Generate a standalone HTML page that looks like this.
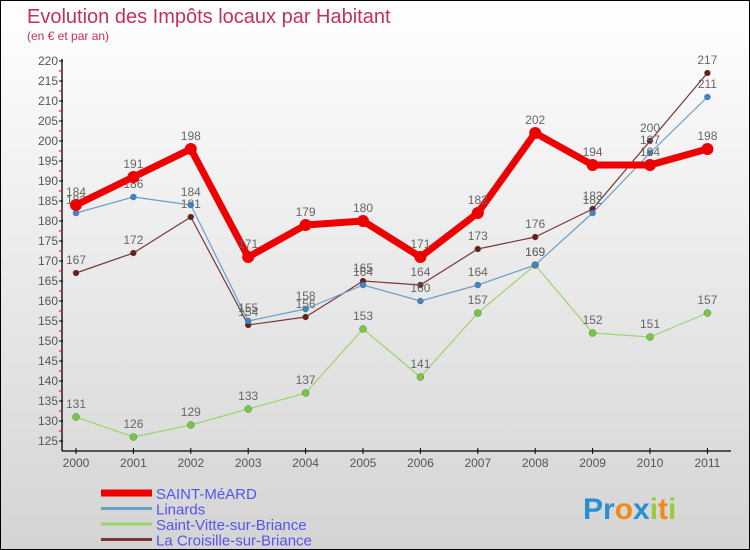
<!DOCTYPE html>
<html><head><meta charset="utf-8"><style>
body{margin:0}
#c{width:750px;height:550px;position:relative;box-sizing:border-box;border:1px solid #000;background:linear-gradient(#fff,#d4d4d4);font-family:"Liberation Sans",sans-serif;overflow:hidden}
svg{position:absolute;left:0;top:0}
</style></head><body>
<div id="c">
<svg id="s" width="750" height="550">
<text x="26" y="22" font-size="20" fill="#c0325a">Evolution des Impôts locaux par Habitant</text>
<text x="26" y="39" font-size="12" fill="#c0325a">(en € et par an)</text>
</svg>
</div>
<script>
const years=["2000","2001","2002","2003","2004","2005","2006","2007","2008","2009","2010","2011"];
const yTicks=[125,130,135,140,145,150,155,160,165,170,175,180,185,190,195,200,205,210,215,220];
const saintMeard=[184,191,198,171,179,180,171,182,202,194,194,198];
const linards=[182,186,184,155,158,164,160,164,169,182,197,211];
const saintVitte=[131,126,129,133,137,153,141,157,169,152,151,157];
const croisille=[167,172,181,154,156,165,164,173,176,183,200,217];
const series=[
 {name:"SAINT-MéARD",vals:saintMeard,color:"#ee0000",w:7,r:6,dot:"#ee0000",key:"saint-meard"},
 {name:"Linards",vals:linards,color:"#6a9fcc",w:1.2,r:3,dot:"#3d86cc",key:"linards"},
 {name:"Saint-Vitte-sur-Briance",vals:saintVitte,color:"#9ad66a",w:1.2,r:3.5,dot:"#72cc3c",key:"saint-vitte"},
 {name:"La Croisille-sur-Briance",vals:croisille,color:"#7a3535",w:1.2,r:3,dot:"#6b1d1d",key:"la-croisille"}
];
const NS="http://www.w3.org/2000/svg",s=document.getElementById("s");
const X=i=>75+i*57.4, Y=v=>440-(v-125)*4;
function el(t,a,p){const e=document.createElementNS(NS,t);for(const k in a)e.setAttribute(k,a[k]);(p||s).appendChild(e);return e;}
let ya=el("line",{x1:61,y1:58,x2:61,y2:450,stroke:"#000","stroke-width":1.3});


let xa=el("line",{x1:61,y1:450,x2:730,y2:450,stroke:"#000","stroke-width":1.3});


yTicks.forEach(v=>{
 el("line",{x1:58,x2:62,y1:Y(v),y2:Y(v),stroke:"#000"});
 if(v<220)el("line",{x1:58,x2:61,y1:Y(v+2.5),y2:Y(v+2.5),stroke:"#e00"});
 const t=el("text",{x:57,y:Y(v)+4,"text-anchor":"end","font-size":12,fill:"#555"});t.textContent=v;
 
 
});
years.forEach((y,i)=>{
 el("line",{x1:X(i),x2:X(i),y1:447,y2:453,stroke:"#000"});
 const t=el("text",{x:X(i),y:466,"text-anchor":"middle","font-size":12,fill:"#555"});t.textContent=y;
 
 
});
[...series].reverse().forEach(se=>{
 const g=el("g",{});
 
 
 el("polyline",{points:se.vals.map((v,i)=>X(i)+","+Y(v)).join(" "),fill:"none",stroke:se.color,"stroke-width":se.w,"stroke-linejoin":"round"},g);
 se.vals.forEach((v,i)=>{
  const c=el("circle",{cx:X(i),cy:Y(v),r:se.r,fill:se.dot,stroke:se.w>2?"none":"#555","stroke-width":0.4},g);
  
  
  const t=el("text",{x:X(i),y:Y(v)-9,"text-anchor":"middle","font-size":12,fill:"#666"},g);t.textContent=v;
  
  
 });
});
series.forEach((se,i)=>{
 const y=492+i*15.5;
 const g=el("g",{});
 
 
 el("line",{x1:100,x2:151,y1:y,y2:y,stroke:se.color,"stroke-width":se.w>2?7:3},g);
 const t=el("text",{x:155,y:y+6,"font-size":15,fill:"#5555ee"},g);t.textContent=se.name;
});
const lg=el("text",{x:582,y:518,"font-size":30,"font-weight":"bold",fill:"#2a8fd0"});


lg.innerHTML='<tspan fill="#2a8fd0">Pr</tspan><tspan fill="#f08a1c">o</tspan><tspan fill="#2a8fd0">x</tspan><tspan fill="#9acb3c">i</tspan><tspan fill="#f08a1c">t</tspan><tspan fill="#9acb3c">i</tspan>';
</script>
</body></html>
